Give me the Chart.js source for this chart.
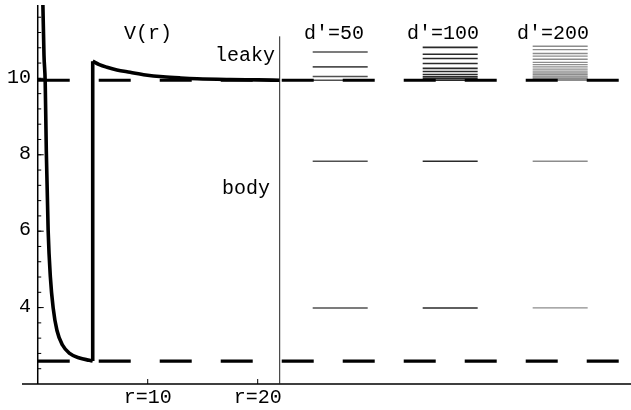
<!DOCTYPE html>
<html lang="en">
<head>
  <meta charset="UTF-8">
  <title>V(r) with leaky and body levels</title>
  <script src="https://cdn.jsdelivr.net/npm/chart.js"></script>
  <style>
    body {
      margin: 0;
      background: #ffffff;
    }
    canvas {
      display: block;
    }
  </style>
</head>
<body>
  <canvas id="levels" width="631" height="410"></canvas>

  <script>
    // potential curve
    const leftR = [0.45, 0.57, 0.68, 0.78, 0.95, 1.15, 1.4, 1.75, 2.25, 2.9, 3.8, 4.7, 5.0];
    const leftV = [12.2, 10.6, 9.9, 8.1, 6.0, 4.8, 4.0, 3.4, 3.02, 2.80, 2.68, 2.62, 2.60];
    const jumpR = [5.0, 5.0];
    const jumpV = [2.60, 10.45];
    const upperR = [5.0, 5.6, 6.3, 7.2, 8.4, 9.8, 11.4, 13, 14.5, 17.5, 20, 22];
    const upperV = [10.45, 10.36, 10.29, 10.22, 10.16, 10.09, 10.04, 10.01, 9.99, 9.97, 9.96, 9.95];

    // dashed reference energies
    const dashedLevels = [9.95, 2.60];
    const dashedSpan = [0, 53.94];

    // separator
    const dividerR = 22;
    const dividerV = [2.0, 11.1];

    // energy levels for each d'
    const columns = ["d′=50", "d′=100", "d′=200"];
    const columnSpans = [[25, 30], [35, 40], [45, 50]];
    const levels50 = [3.99, 7.83, 9.95, 10.05, 10.30, 10.69];
    const levels100 = [3.99, 7.83, 9.95, 9.99, 10.04, 10.10, 10.18, 10.26, 10.39, 10.52, 10.63, 10.81];
    const levels200 = [3.99, 7.83, 9.95, 9.97, 10.00, 10.03, 10.06, 10.10, 10.14, 10.19, 10.24, 10.30,
                       10.36, 10.42, 10.50, 10.58, 10.65, 10.75, 10.84];
    const levelColors = ['#505050', '#2a2a2a', '#8c8c8c'];

    // ticks
    const yMajor = [4, 6, 8, 10];
    const yMinorStep = 0.4;
    const xTicks = [10, 20];
    const xTickLabels = ['r=10', 'r=20'];

    const pts = (xs, ys) => xs.map((x, i) => ({ x: x, y: ys[i] }));
    const mono = '"Liberation Mono", "DejaVu Sans Mono", monospace';

    const datasets = [];

    dashedLevels.forEach(v => {
      datasets.push({
        data: pts(dashedSpan, [v, v]),
        borderColor: '#000',
        borderWidth: 3.2,
        borderDash: [32, 29],
        borderCapStyle: 'butt'
      });
    });

    datasets.push({
      data: pts([dividerR, dividerR], dividerV),
      borderColor: '#222',
      borderWidth: 1
    });

    [levels50, levels100, levels200].forEach((lv, c) => {
      lv.forEach(v => {
        datasets.push({
          data: pts(columnSpans[c], [v, v]),
          borderColor: levelColors[c],
          borderWidth: c === 2 ? 1.3 : 1.6
        });
      });
    });

    datasets.push({
      data: pts(leftR, leftV),
      borderColor: '#000',
      borderWidth: 3.6,
      cubicInterpolationMode: 'monotone'
    });
    datasets.push({
      data: pts(jumpR, jumpV),
      borderColor: '#000',
      borderWidth: 3.6
    });
    datasets.push({
      data: pts(upperR, upperV),
      borderColor: '#000',
      borderWidth: 3.6,
      cubicInterpolationMode: 'monotone'
    });

    const axesPlugin = {
      id: 'mathAxes',
      beforeDatasetsDraw(chart) {
        const c = chart.ctx;
        const xs = chart.scales.x, ys = chart.scales.y;
        const x0 = xs.getPixelForValue(0);
        const yb = ys.getPixelForValue(2);
        c.save();
        c.strokeStyle = '#000';
        c.lineWidth = 1.5;
        c.beginPath();
        c.moveTo(x0, chart.chartArea.top);
        c.lineTo(x0, yb);
        c.moveTo(chart.chartArea.left, yb);
        c.lineTo(chart.chartArea.right, yb);
        c.stroke();

        // y ticks, pointing inwards
        c.lineWidth = 1;
        c.beginPath();
        for (let v = 2 + yMinorStep; v <= ys.max; v += yMinorStep) {
          const p = ys.getPixelForValue(v);
          c.moveTo(x0, p);
          c.lineTo(x0 + 3.5, p);
        }
        yMajor.forEach(v => {
          const p = ys.getPixelForValue(v);
          c.moveTo(x0, p);
          c.lineTo(x0 + 6, p);
        });
        xTicks.forEach(v => {
          const p = xs.getPixelForValue(v);
          c.moveTo(p, yb);
          c.lineTo(p, yb - 5);
        });
        c.stroke();
        c.restore();
      },
      afterDraw(chart) {
        const c = chart.ctx;
        const xs = chart.scales.x, ys = chart.scales.y;
        c.save();
        c.fillStyle = '#000';
        c.font = '20px ' + mono;

        c.textAlign = 'right';
        c.textBaseline = 'middle';
        yMajor.forEach(v => {
          c.fillText(String(v), 31, ys.getPixelForValue(v) - 1);
        });

        c.textAlign = 'center';
        c.textBaseline = 'alphabetic';
        xTicks.forEach((v, i) => {
          c.fillText(xTickLabels[i], xs.getPixelForValue(v), 403);
        });

        c.fillText('V(r)', 148, 39);
        c.textAlign = 'left';
        c.fillText('leaky', 215, 61);
        c.fillText('body', 222, 194);

        const colX = [304, 407, 517];
        columns.forEach((t, i) => c.fillText(t, colX[i], 39));
        c.restore();
      }
    };

    new Chart(document.getElementById('levels'), {
      type: 'scatter',
      data: { datasets: datasets },
      options: {
        responsive: false,
        animation: false,
        showLine: true,
        layout: { padding: { left: 22, right: 0, top: 5, bottom: 26 } },
        elements: { point: { radius: 0 } },
        scales: {
          x: { type: 'linear', min: -1.43, max: 53.94, display: false },
          y: { type: 'linear', min: 2, max: 11.92, display: false }
        },
        plugins: {
          legend: { display: false },
          tooltip: { enabled: false }
        }
      },
      plugins: [axesPlugin]
    });
  </script>
</body>
</html>
